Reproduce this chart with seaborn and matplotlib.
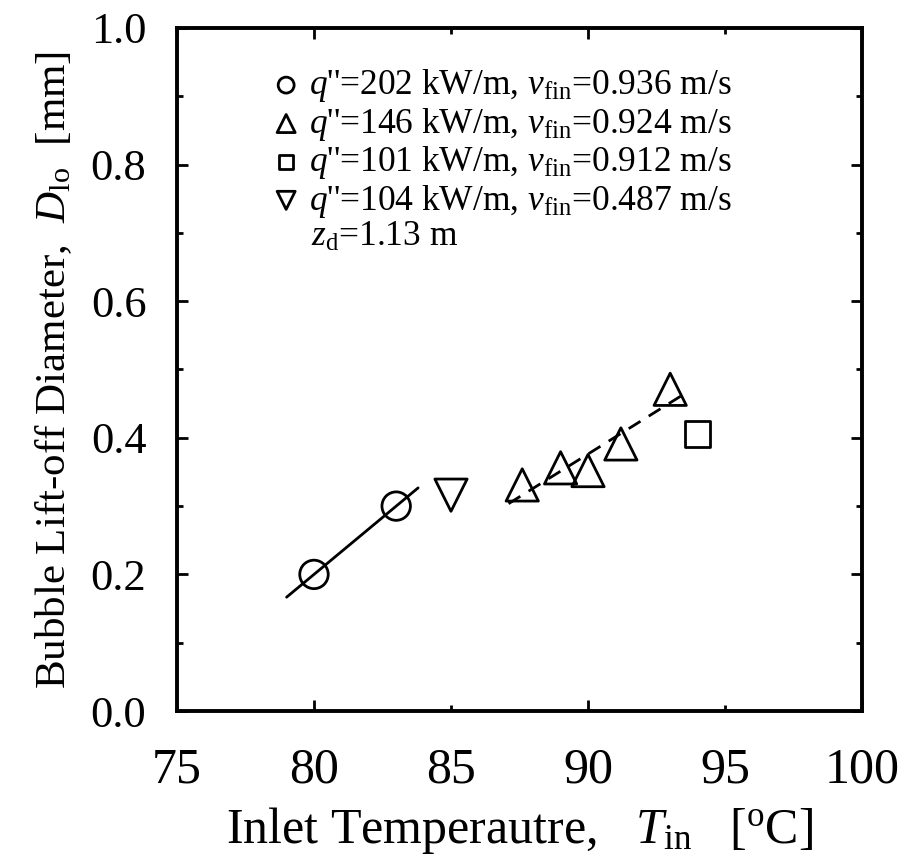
import matplotlib
matplotlib.use("Agg")
import matplotlib.pyplot as plt
from matplotlib.ticker import MultipleLocator, FormatStrFormatter
import numpy as np
import pandas as pd
import seaborn as sns

# data
t_202 = [80.0, 83.0]
d_202 = [0.200, 0.300]
t_146 = [87.6, 89.0, 90.0, 91.2, 93.0]
d_146 = [0.331, 0.356, 0.352, 0.391, 0.471]
t_101 = [94.0]
d_101 = [0.406]
t_104 = [85.0]
d_104 = [0.316]

# x-range spanned by the two fitted lines
fit_202_range = [79.0, 83.8]
fit_146_range = [87.1, 93.6]

labels = [
    r"$q$''=202 kW/m, $v_{\rm fin}$=0.936 m/s",
    r"$q$''=146 kW/m, $v_{\rm fin}$=0.924 m/s",
    r"$q$''=101 kW/m, $v_{\rm fin}$=0.912 m/s",
    r"$q$''=104 kW/m, $v_{\rm fin}$=0.487 m/s",
]

sns.set_theme(style="ticks")
plt.rcParams["font.family"] = ["Liberation Serif", "DejaVu Serif"]
plt.rcParams["mathtext.fontset"] = "custom"
plt.rcParams["mathtext.rm"] = "Liberation Serif"
plt.rcParams["mathtext.it"] = "Liberation Serif:italic"
plt.rcParams["text.color"] = "black"
plt.rcParams["axes.labelcolor"] = "black"

fig = plt.figure(figsize=(9.09, 8.63), dpi=100)
ax = fig.add_axes([0.1947, 0.1761, 0.7536, 0.7915])

groups = [
    (t_202, d_202, "o", 420, labels[0]),
    (t_146, d_146, "^", 540, labels[1]),
    (t_101, d_101, "s", 340, labels[2]),
    (t_104, d_104, "v", 540, labels[3]),
]
for tx, dy, mk, sz, lab in groups:
    df = pd.DataFrame({"T": tx, "D": dy})
    sns.scatterplot(data=df, x="T", y="D", marker=mk, s=sz, facecolor="none",
                    edgecolor="black", linewidth=2.0, label=lab, ax=ax, zorder=3)

# linear fits
k1, b1 = np.polyfit(t_202, d_202, 1)
xs1 = np.array(fit_202_range)
ax.plot(xs1, k1 * xs1 + b1, color="black", lw=2.0, zorder=2)
k2, b2 = np.polyfit(t_146, d_146, 1)
xs2 = np.array(fit_146_range)
ax.plot(xs2, k2 * xs2 + b2, color="black", lw=2.0, ls=(0, (5, 3.5)), zorder=2)

ax.set_xlim(75, 100)
ax.set_ylim(0, 1.0)

ax.xaxis.set_major_locator(MultipleLocator(10))
ax.xaxis.set_minor_locator(MultipleLocator(5))
ax.xaxis.set_major_formatter(FormatStrFormatter("%d"))
ax.xaxis.set_minor_formatter(FormatStrFormatter("%d"))
ax.yaxis.set_major_locator(MultipleLocator(0.2))
ax.yaxis.set_minor_locator(MultipleLocator(0.1))
ax.yaxis.set_major_formatter(FormatStrFormatter("%.1f"))

ax.tick_params(axis="both", which="both", direction="in", top=True, right=True,
               width=2.0, colors="black")
ax.tick_params(axis="x", which="both", labelsize=36, pad=26)
ax.tick_params(axis="y", which="both", labelsize=32, pad=22)
ax.tick_params(axis="both", which="major", length=8)
ax.tick_params(axis="both", which="minor", length=4)
for sp in ax.spines.values():
    sp.set_linewidth(2.8)
    sp.set_color("black")

ax.set_xlabel(r"Inlet Temperautre,   $T_{\rm in}$   [$^{\rm o}$C]", fontsize=36, labelpad=8)
ax.set_ylabel(r"Bubble Lift-off Diameter,  $D_{\rm lo}$  [mm]", fontsize=31, labelpad=12)

leg = ax.legend(loc="upper left", bbox_to_anchor=(0.118, 0.963), frameon=False,
                fontsize=25.5, markerscale=0.56, handletextpad=0.25, handlelength=0.8,
                labelspacing=0.04, borderaxespad=0)
for t in leg.get_texts():
    t.set_color("black")
ax.text(0.196, 0.694, r"$z_{\rm d}$=1.13 m", transform=ax.transAxes, fontsize=25.5,
        va="center", ha="left")

fig.savefig("out.png", dpi=100)
